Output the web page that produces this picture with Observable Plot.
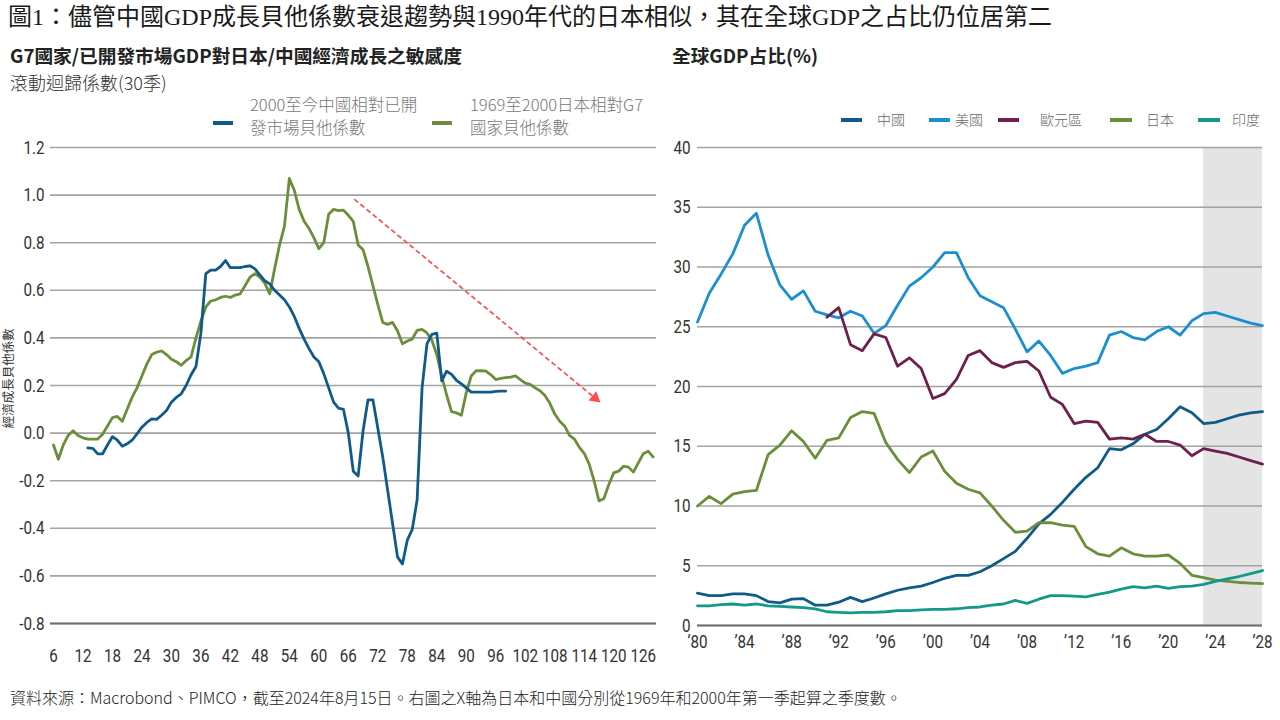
<!DOCTYPE html>
<html>
<head>
<meta charset="utf-8">
<script src="https://cdn.jsdelivr.net/npm/d3@7"></script>
<script src="https://cdn.jsdelivr.net/npm/@observablehq/plot@0.6"></script>
<style>
  html, body { margin: 0; padding: 0; background: #fff; }
  body { width: 1280px; height: 720px; position: relative; overflow: hidden;
         font-family: "Noto Sans CJK TC", "Noto Sans", sans-serif; color: #222; }
  .abs { position: absolute; white-space: nowrap; line-height: 1; }
  #title { left: 8px; top: 5px; font-size: 24px; color: #1a1a1a;
           font-family: "Liberation Serif", "Noto Sans CJK TC", serif; }
  .sub { font-size: 18.7px; font-weight: 700; color: #222; top: 46px; }
  #sub2 { left: 10px; top: 73px; font-size: 18px; color: #333; font-weight: 300; }
  .leg { font-size: 16.5px; color: #777; font-weight: 300; line-height: 23px; }
  .legR { font-size: 14px; color: #666; font-weight: 300; top: 112px; }
  .sw { position: absolute; height: 4px; }
  #ylab { left: -40px; top: 374px; width: 96px; text-align: center; font-size: 12.5px; color: #333;
          transform: rotate(-90deg); }
  #caption { left: 10px; top: 689px; font-size: 16px; color: #222; font-weight: 300; }
  .chart { position: absolute; top: 130px; }
</style>
</head>
<body>
<div id="title" class="abs">圖1：儘管中國GDP成長貝他係數衰退趨勢與1990年代的日本相似，其在全球GDP之占比仍位居第二</div>
<div class="abs sub" style="left:10px">G7國家/已開發市場GDP對日本/中國經濟成長之敏感度</div>
<div id="sub2" class="abs">滾動迴歸係數(30季)</div>
<div class="abs sub" style="left:672px">全球GDP占比(%)</div>

<div class="sw" style="left:213px;top:121px;width:20px;background:#105a8a"></div>
<div class="abs leg" style="left:250px;top:93px">2000至今中國相對已開<br>發市場貝他係數</div>
<div class="sw" style="left:432px;top:121px;width:20px;background:#6b8e3b"></div>
<div class="abs leg" style="left:470px;top:93px">1969至2000日本相對G7<br>國家貝他係數</div>

<div class="sw" style="left:841px;top:118px;width:21px;background:#105a8a"></div>
<div class="abs legR" style="left:877px">中國</div>
<div class="sw" style="left:929px;top:118px;width:21px;background:#1b8fd0"></div>
<div class="abs legR" style="left:955px">美國</div>
<div class="sw" style="left:998px;top:118px;width:21px;background:#6d1f4d"></div>
<div class="abs legR" style="left:1040px">歐元區</div>
<div class="sw" style="left:1110px;top:118px;width:22px;background:#6b8e3b"></div>
<div class="abs legR" style="left:1146px">日本</div>
<div class="sw" style="left:1198px;top:118px;width:22px;background:#13998a"></div>
<div class="abs legR" style="left:1232px">印度</div>

<div id="ylab" class="abs">經濟成長貝他係數</div>
<div id="leftChart" class="chart" style="left:0px"></div>
<div id="rightChart" class="chart" style="left:640px"></div>
<div id="caption" class="abs">資料來源：Macrobond、PIMCO，截至2024年8月15日。右圖之X軸為日本和中國分別從1969年和2000年第一季起算之季度數。</div>

<script>
// ---------- Left chart data (rolling beta, by quarter number) ----------
const leftXTicks = [6, 12, 18, 24, 30, 36, 42, 48, 54, 60, 66, 72, 78, 84, 90, 96, 102, 108, 114, 120, 126];
const leftYTicks = [-0.8, -0.6, -0.4, -0.2, 0.0, 0.2, 0.4, 0.6, 0.8, 1.0, 1.2];

const japanStartQ = 6;
const japanBeta = [
  -0.05, -0.11, -0.05, -0.01, 0.01, -0.01, -0.02, -0.025, -0.025, -0.025,
  -0.005, 0.03, 0.065, 0.07, 0.05, 0.10, 0.15, 0.19, 0.24, 0.29,
  0.33, 0.34, 0.345, 0.33, 0.31, 0.30, 0.285, 0.305, 0.32, 0.40,
  0.47, 0.53, 0.555, 0.56, 0.57, 0.575, 0.57, 0.58, 0.585, 0.62,
  0.655, 0.67, 0.655, 0.63, 0.585, 0.69, 0.79, 0.87, 1.07, 1.02,
  0.94, 0.89, 0.86, 0.82, 0.775, 0.80, 0.92, 0.94, 0.935, 0.937,
  0.915, 0.89, 0.79, 0.77, 0.70, 0.62, 0.54, 0.465, 0.457, 0.465,
  0.43, 0.375, 0.387, 0.395, 0.432, 0.436, 0.421, 0.39, 0.33, 0.24,
  0.16, 0.09, 0.085, 0.075, 0.17, 0.24, 0.262, 0.262, 0.26, 0.245,
  0.225, 0.23, 0.233, 0.235, 0.24, 0.225, 0.21, 0.205, 0.19, 0.178,
  0.158, 0.125, 0.08, 0.05, 0.03, -0.01, -0.025, -0.06, -0.085, -0.13,
  -0.2, -0.285, -0.275, -0.216, -0.167, -0.16, -0.139, -0.143, -0.164, -0.125,
  -0.087, -0.076, -0.1
];

const chinaStartQ = 13;
const chinaBeta = [
  -0.062, -0.064, -0.087, -0.087, -0.05, -0.015, -0.03, -0.055, -0.045, -0.03,
  -0.003, 0.025, 0.045, 0.06, 0.058, 0.075, 0.095, 0.13, 0.15, 0.165,
  0.20, 0.245, 0.28, 0.42, 0.67, 0.685, 0.685, 0.70, 0.725, 0.695,
  0.695, 0.695, 0.70, 0.703, 0.69, 0.665, 0.64, 0.627, 0.60, 0.58,
  0.56, 0.53, 0.49, 0.44, 0.395, 0.355, 0.32, 0.30, 0.25, 0.19,
  0.13, 0.105, 0.10, 0.0, -0.16, -0.18, 0.01, 0.14, 0.14, 0.02,
  -0.10, -0.24, -0.38, -0.52, -0.55, -0.45, -0.405, -0.28, 0.19, 0.375,
  0.415, 0.42, 0.22, 0.26, 0.247, 0.222, 0.207, 0.19, 0.172, 0.172,
  0.172, 0.172, 0.172, 0.175, 0.176, 0.176
];

// dashed trend annotation (quarter, beta)
const trendArrow = [{q1: 67.2, v1: 0.983, q2: 116.2, v2: 0.147}];

// ---------- Right chart data (share of world GDP, %) ----------
const rightXTicks = [1980, 1984, 1988, 1992, 1996, 2000, 2004, 2008, 2012, 2016, 2020, 2024, 2028];
const rightYTicks = [0, 5, 10, 15, 20, 25, 30, 35, 40];
const firstYear = 1980;
const chinaShare = [
  2.7, 2.5, 2.5, 2.65, 2.65, 2.5, 2.0, 1.9, 2.2, 2.25,
  1.7, 1.7, 1.95, 2.35, 2.0, 2.3, 2.65, 2.95, 3.15, 3.3,
  3.6, 3.95, 4.2, 4.2, 4.5, 5.0, 5.6, 6.2, 7.3, 8.5,
  9.3, 10.3, 11.4, 12.4, 13.2, 14.8, 14.7, 15.2, 16.0, 16.4,
  17.3, 18.3, 17.8, 16.9, 17.0, 17.3, 17.6, 17.8, 17.9
];
const usShare = [
  25.4, 27.8, 29.4, 31.1, 33.5, 34.5, 31.0, 28.5, 27.3, 28.0,
  26.3, 26.0, 25.75, 26.3, 25.9, 24.45, 25.1, 26.8, 28.4, 29.1,
  30.0, 31.2, 31.2, 29.1, 27.6, 27.1, 26.6, 24.8, 22.9, 23.8,
  22.6, 21.1, 21.5, 21.7, 22.0, 24.3, 24.6, 24.1, 23.9, 24.6,
  25.0, 24.3, 25.5, 26.1, 26.2, 25.9, 25.6, 25.3, 25.1
];
const euroFirstYear = 1991;
const euroShare = [
  25.8, 26.6, 23.5, 23.0, 24.4, 24.1, 21.7, 22.4, 21.5, 19.0,
  19.4, 20.6, 22.6, 23.0, 22.0, 21.6, 22.0, 22.1, 21.3, 19.1,
  18.5, 16.9, 17.1, 17.0, 15.6, 15.7, 15.6, 16.0, 15.4, 15.4,
  15.1, 14.2, 14.8, 14.6, 14.4, 14.1, 13.8, 13.5
];
const japanShare = [
  10.0, 10.8, 10.2, 11.0, 11.2, 11.3, 14.3, 15.1, 16.3, 15.4,
  14.0, 15.5, 15.7, 17.4, 17.9, 17.75, 15.3, 13.9, 12.8, 14.1,
  14.6, 12.9, 11.9, 11.4, 11.1, 10.0, 8.8, 7.8, 7.9, 8.6,
  8.6, 8.4, 8.3, 6.6, 6.0, 5.8, 6.5, 6.0, 5.8, 5.8,
  5.9, 5.2, 4.2, 4.0, 3.8, 3.7, 3.6, 3.55, 3.5
];
const indiaShare = [
  1.65, 1.65, 1.75, 1.8, 1.7, 1.8, 1.65, 1.6, 1.55, 1.5,
  1.4, 1.15, 1.1, 1.05, 1.1, 1.1, 1.15, 1.25, 1.25, 1.3,
  1.35, 1.35, 1.4, 1.5, 1.55, 1.7, 1.8, 2.1, 1.85, 2.2,
  2.5, 2.5, 2.45, 2.4, 2.6, 2.8, 3.05, 3.25, 3.15, 3.3,
  3.1, 3.25, 3.3, 3.45, 3.7, 3.9, 4.1, 4.35, 4.6
];
const forecastSpan = [{from: 2023, to: 2028}];

// ---------- build tables ----------
const japanData = japanBeta.map((v, i) => ({q: japanStartQ + i, v}));
const chinaData = chinaBeta.map((v, i) => ({q: chinaStartQ + i, v}));
const toRows = (arr, y0) => arr.map((v, i) => ({year: y0 + i, v}));

const tickFont = '"Roboto", "Liberation Sans", sans-serif';
const C = {china: "#105a8a", us: "#1b8fd0", euro: "#6d1f4d", japan: "#6b8e3b", india: "#13998a"};

// narrow the tick labels horizontally (reference uses a condensed face)
function condense(svg, k) {
  svg.querySelectorAll('g[aria-label$="tick label"] text').forEach(t => {
    const x = +t.getAttribute("x") || 0, y = +t.getAttribute("y") || 0;
    const base = t.getAttribute("transform") || "";
    t.setAttribute("transform", `${base} translate(${x},${y}) scale(${k},1) translate(${-x},${-y})`);
  });
}

const left = Plot.plot({
  width: 660, height: 540,
  marginLeft: 50, marginRight: 4, marginTop: 17, marginBottom: 47,
  x: {domain: [5.4, 128.7]},
  y: {domain: [-0.8, 1.2]},
  style: {fontFamily: tickFont, fontSize: "19px", color: "#333", background: "transparent", overflow: "visible"},
  marks: [
    Plot.ruleY(leftYTicks, {stroke: "#a3a3a3", strokeWidth: 1.6}),
    Plot.ruleY([-0.8], {stroke: "#6e6e6e", strokeWidth: 1.8}),
    Plot.line(japanData, {x: "q", y: "v", stroke: C.japan, strokeWidth: 2.8}),
    Plot.line(chinaData, {x: "q", y: "v", stroke: C.china, strokeWidth: 2.8}),
    Plot.link(trendArrow, {x1: "q1", y1: "v1", x2: "q2", y2: "v2", stroke: "#ff4d4d", strokeWidth: 1.7, strokeDasharray: "5,3"}),
    Plot.dot(trendArrow, {x: "q2", y: "v2", symbol: "triangle", r: 4.5, fill: "#ff4d4d", stroke: "none", rotate: 129.5}),
    Plot.axisX(leftXTicks, {tickSize: 0, tickPadding: 25, label: null}),
    Plot.axisY(leftYTicks, {tickSize: 0, tickPadding: 6, label: null, tickFormat: d => d.toFixed(1)})
  ]
});
condense(left, 0.8);
document.getElementById("leftChart").append(left);

const right = Plot.plot({
  width: 640, height: 540,
  marginLeft: 57, marginRight: 18, marginTop: 17, marginBottom: 45,
  x: {domain: [1980, 2028]},
  y: {domain: [0, 40]},
  style: {fontFamily: tickFont, fontSize: "19px", color: "#333", background: "transparent", overflow: "visible"},
  marks: [
    Plot.rect(forecastSpan, {x1: "from", x2: "to", fill: "#e4e4e4"}),
    Plot.ruleY(rightYTicks, {stroke: "#a3a3a3", strokeWidth: 1.6}),
    Plot.ruleY([0], {stroke: "#6e6e6e", strokeWidth: 1.8}),
    Plot.line(toRows(chinaShare, firstYear), {x: "year", y: "v", stroke: C.china, strokeWidth: 2.8}),
    Plot.line(toRows(usShare, firstYear), {x: "year", y: "v", stroke: C.us, strokeWidth: 2.8}),
    Plot.line(toRows(euroShare, euroFirstYear), {x: "year", y: "v", stroke: C.euro, strokeWidth: 2.8}),
    Plot.line(toRows(japanShare, firstYear), {x: "year", y: "v", stroke: C.japan, strokeWidth: 2.8}),
    Plot.line(toRows(indiaShare, firstYear), {x: "year", y: "v", stroke: C.india, strokeWidth: 2.8}),
    Plot.axisX(rightXTicks, {tickSize: 0, tickPadding: 9, label: null, tickFormat: d => "\u2019" + String(d).slice(2)}),
    Plot.axisY(rightYTicks, {tickSize: 0, tickPadding: 7, label: null})
  ]
});
condense(right, 0.8);
document.getElementById("rightChart").append(right);
</script>
</body>
</html>
